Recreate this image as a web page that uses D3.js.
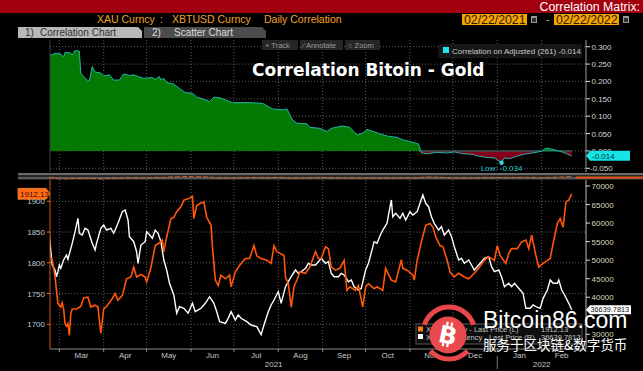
<!DOCTYPE html>
<html>
<head>
<meta charset="utf-8">
<script src="https://cdn.jsdelivr.net/npm/d3@7"></script>
<style>
  html, body { margin: 0; padding: 0; background: #000; }
  svg { display: block; font-family: "Liberation Sans", Arial, sans-serif; }
</style>
</head>
<body>
<svg id="chart" width="643" height="371"></svg>
<script>
// Correlation series (top panel).
const corrDates = [
  '2021-02-22', '2021-02-26', '2021-03-02', '2021-03-04', '2021-03-05', '2021-03-09', '2021-03-10',
  '2021-03-12', '2021-03-15', '2021-03-16', '2021-03-18', '2021-03-21', '2021-03-22', '2021-03-24',
  '2021-03-26', '2021-03-30', '2021-04-01', '2021-04-05', '2021-04-08', '2021-04-12', '2021-04-15',
  '2021-04-19', '2021-04-22', '2021-04-25', '2021-04-29', '2021-05-05', '2021-05-07', '2021-05-10',
  '2021-05-11', '2021-05-13', '2021-05-15', '2021-05-20', '2021-05-24', '2021-05-28', '2021-06-02',
  '2021-06-05', '2021-06-09', '2021-06-14', '2021-06-17', '2021-06-22', '2021-06-25', '2021-06-30',
  '2021-07-12', '2021-07-21', '2021-07-28', '2021-08-05', '2021-08-07', '2021-08-11', '2021-08-14',
  '2021-08-21', '2021-08-23', '2021-08-30', '2021-09-04', '2021-09-07', '2021-09-15', '2021-09-20',
  '2021-09-25', '2021-09-29', '2021-10-02', '2021-10-05', '2021-10-11', '2021-10-16', '2021-10-23',
  '2021-10-27', '2021-11-01', '2021-11-07', '2021-11-09', '2021-11-13', '2021-11-20', '2021-11-27',
  '2021-12-02', '2021-12-08', '2021-12-15', '2021-12-18', '2021-12-23', '2021-12-30', '2022-01-04',
  '2022-01-06', '2022-01-10', '2022-01-14', '2022-01-19', '2022-01-24', '2022-02-01', '2022-02-04',
  '2022-02-07', '2022-02-11', '2022-02-16', '2022-02-19', '2022-02-22'
];
const corrValues = [
  0.274, 0.281, 0.279, 0.270, 0.284, 0.282, 0.276,
  0.289, 0.287, 0.224, 0.214, 0.202, 0.202, 0.243,
  0.227, 0.224, 0.216, 0.219, 0.204, 0.204, 0.222,
  0.217, 0.219, 0.214, 0.209, 0.211, 0.206, 0.214,
  0.204, 0.209, 0.197, 0.192, 0.180, 0.168, 0.166,
  0.155, 0.150, 0.142, 0.155, 0.152, 0.147, 0.139,
  0.139, 0.137, 0.121, 0.118, 0.121, 0.089, 0.080,
  0.078, 0.068, 0.065, 0.056, 0.065, 0.072, 0.068,
  0.046, 0.051, 0.062, 0.058, 0.049, 0.043, 0.039,
  0.032, 0.027, 0.020, -0.006, -0.008, -0.004, -0.006,
  -0.003, -0.008, -0.010, -0.014, -0.018, -0.020, -0.034,
  -0.020, -0.022, -0.016, -0.010, -0.007, -0.001, 0.008,
  0.006, 0.002, -0.004, -0.009, -0.014
];

// XAU Curncy last price (left axis).
const goldDates = [
  '2021-02-22', '2021-02-24', '2021-02-26', '2021-02-28', '2021-03-02', '2021-03-03', '2021-03-04',
  '2021-03-05', '2021-03-06', '2021-03-07', '2021-03-08', '2021-03-09', '2021-03-10', '2021-03-13',
  '2021-03-16', '2021-03-18', '2021-03-21', '2021-03-23', '2021-03-26', '2021-03-28', '2021-03-30',
  '2021-04-01', '2021-04-03', '2021-04-07', '2021-04-09', '2021-04-11', '2021-04-14', '2021-04-17',
  '2021-04-20', '2021-04-22', '2021-04-24', '2021-04-27', '2021-04-30', '2021-05-01', '2021-05-04',
  '2021-05-07', '2021-05-09', '2021-05-12', '2021-05-13', '2021-05-15', '2021-05-18', '2021-05-20',
  '2021-05-22', '2021-05-25', '2021-05-27', '2021-05-30', '2021-06-02', '2021-06-03', '2021-06-05',
  '2021-06-07', '2021-06-10', '2021-06-12', '2021-06-15', '2021-06-16', '2021-06-18', '2021-06-20',
  '2021-06-22', '2021-06-25', '2021-06-28', '2021-06-29', '2021-07-02', '2021-07-05', '2021-07-09',
  '2021-07-12', '2021-07-15', '2021-07-17', '2021-07-20', '2021-07-24', '2021-07-27', '2021-07-29',
  '2021-07-31', '2021-08-05', '2021-08-06', '2021-08-08', '2021-08-10', '2021-08-12', '2021-08-14',
  '2021-08-16', '2021-08-20', '2021-08-23', '2021-08-27', '2021-08-29', '2021-08-31', '2021-09-03',
  '2021-09-05', '2021-09-07', '2021-09-10', '2021-09-13', '2021-09-16', '2021-09-18', '2021-09-20',
  '2021-09-24', '2021-09-26', '2021-09-29', '2021-10-01', '2021-10-03', '2021-10-07', '2021-10-09',
  '2021-10-13', '2021-10-15', '2021-10-19', '2021-10-22', '2021-10-26', '2021-10-27', '2021-10-30',
  '2021-11-03', '2021-11-04', '2021-11-06', '2021-11-09', '2021-11-12', '2021-11-15', '2021-11-17',
  '2021-11-19', '2021-11-22', '2021-11-24', '2021-11-27', '2021-11-29', '2021-12-02', '2021-12-05',
  '2021-12-09', '2021-12-12', '2021-12-16', '2021-12-19', '2021-12-23', '2021-12-26', '2021-12-30',
  '2022-01-01', '2022-01-03', '2022-01-07', '2022-01-09', '2022-01-11', '2022-01-15', '2022-01-18',
  '2022-01-21', '2022-01-23', '2022-01-25', '2022-01-28', '2022-01-30', '2022-02-02', '2022-02-05',
  '2022-02-07', '2022-02-09', '2022-02-12', '2022-02-14', '2022-02-16', '2022-02-18', '2022-02-20',
  '2022-02-22'
];
const goldValues = [
  1812, 1805, 1777, 1734, 1728, 1735, 1725,
  1701, 1697, 1701, 1682, 1717, 1725, 1725,
  1729, 1743, 1744, 1728, 1731, 1728, 1685,
  1725, 1729, 1742, 1750, 1739, 1747, 1774,
  1777, 1793, 1777, 1781, 1777, 1769, 1792,
  1828, 1831, 1837, 1818, 1842, 1872, 1874,
  1883, 1891, 1902, 1904, 1908, 1872, 1893,
  1896, 1899, 1874, 1861, 1826, 1772, 1763,
  1780, 1774, 1780, 1761, 1785, 1796, 1807,
  1807, 1828, 1811, 1807, 1804, 1799, 1828,
  1818, 1812, 1777, 1766, 1728, 1761, 1772,
  1785, 1783, 1793, 1818, 1807, 1807, 1826,
  1823, 1793, 1788, 1791, 1804, 1755, 1761,
  1755, 1763, 1728, 1761, 1766, 1758, 1761,
  1755, 1791, 1772, 1769, 1805, 1791, 1788,
  1780, 1772, 1804, 1834, 1861, 1864, 1858,
  1842, 1828, 1826, 1804, 1785, 1777, 1783,
  1777, 1774, 1783, 1791, 1804, 1810, 1804,
  1828, 1812, 1799, 1815, 1823, 1823, 1834,
  1837, 1823, 1845, 1812, 1793, 1799, 1804,
  1807, 1831, 1864, 1872, 1858, 1899, 1902,
  1912.13
];

// XBTUSD Curncy last price (right axis).
const btcDates = [
  '2021-02-22', '2021-02-24', '2021-02-26', '2021-02-27', '2021-02-28', '2021-03-01', '2021-03-02',
  '2021-03-04', '2021-03-06', '2021-03-07', '2021-03-10', '2021-03-12', '2021-03-14', '2021-03-15',
  '2021-03-17', '2021-03-19', '2021-03-21', '2021-03-24', '2021-03-26', '2021-03-27', '2021-03-30',
  '2021-04-01', '2021-04-03', '2021-04-06', '2021-04-08', '2021-04-11', '2021-04-14', '2021-04-16',
  '2021-04-18', '2021-04-19', '2021-04-22', '2021-04-24', '2021-04-25', '2021-04-27', '2021-04-30',
  '2021-05-01', '2021-05-05', '2021-05-07', '2021-05-09', '2021-05-11', '2021-05-13', '2021-05-15',
  '2021-05-17', '2021-05-20', '2021-05-22', '2021-05-24', '2021-05-27', '2021-05-30', '2021-06-02',
  '2021-06-04', '2021-06-08', '2021-06-11', '2021-06-14', '2021-06-17', '2021-06-19', '2021-06-21',
  '2021-06-25', '2021-06-27', '2021-06-29', '2021-07-02', '2021-07-04', '2021-07-06', '2021-07-10',
  '2021-07-13', '2021-07-17', '2021-07-20', '2021-07-22', '2021-07-25', '2021-07-27', '2021-07-29',
  '2021-08-01', '2021-08-03', '2021-08-06', '2021-08-08', '2021-08-10', '2021-08-13', '2021-08-15',
  '2021-08-17', '2021-08-20', '2021-08-22', '2021-08-24', '2021-08-27', '2021-08-29', '2021-08-31',
  '2021-09-03', '2021-09-05', '2021-09-07', '2021-09-09', '2021-09-12', '2021-09-14', '2021-09-16',
  '2021-09-19', '2021-09-21', '2021-09-23', '2021-09-26', '2021-09-28', '2021-10-01', '2021-10-03',
  '2021-10-07', '2021-10-09', '2021-10-11', '2021-10-13', '2021-10-16', '2021-10-17', '2021-10-19',
  '2021-10-20', '2021-10-22', '2021-10-25', '2021-10-27', '2021-10-29', '2021-11-01', '2021-11-03',
  '2021-11-06', '2021-11-08', '2021-11-10', '2021-11-12', '2021-11-14', '2021-11-16', '2021-11-18',
  '2021-11-21', '2021-11-23', '2021-11-25', '2021-11-28', '2021-11-30', '2021-12-02', '2021-12-05',
  '2021-12-07', '2021-12-09', '2021-12-12', '2021-12-14', '2021-12-16', '2021-12-19', '2021-12-21',
  '2021-12-23', '2021-12-26', '2021-12-28', '2021-12-30', '2022-01-02', '2022-01-04', '2022-01-06',
  '2022-01-09', '2022-01-11', '2022-01-13', '2022-01-17', '2022-01-19', '2022-01-21', '2022-01-24',
  '2022-01-26', '2022-01-28', '2022-01-31', '2022-02-02', '2022-02-05', '2022-02-07', '2022-02-09',
  '2022-02-12', '2022-02-13', '2022-02-15', '2022-02-17', '2022-02-20', '2022-02-22'
];
const btcValues = [
  56800, 48690, 47340, 45530, 46880, 48690, 47800,
  50040, 51390, 50230, 54540, 57690, 61290, 57240,
  56780, 58590, 58130, 54540, 52740, 54540, 58590,
  59480, 58130, 58590, 57240, 59940, 63070, 63530,
  60830, 56330, 54980, 52280, 49150, 54080, 54980,
  57690, 55890, 58130, 57240, 54980, 50040, 47340,
  43750, 40600, 35660, 37440, 37010, 35660, 38360,
  36090, 37010, 38360, 40140, 38360, 36090, 33400,
  32960, 34310, 36090, 33850, 35200, 34310, 33400,
  32500, 32050, 29900, 32500, 36090, 37900, 39250,
  41490, 38360, 42840, 44190, 45530, 47340, 46450,
  46880, 47800, 49150, 48690, 48690, 49590, 50500,
  49150, 49590, 46450, 45530, 45530, 46450, 45990,
  44190, 44640, 42840, 41940, 42390, 47340, 49150,
  54980, 54540, 56500, 58130, 59940, 62180, 66230,
  61720, 62630, 61290, 62630, 60830, 63070, 62180,
  63070, 65330, 67570, 65330, 64420, 61720, 59940,
  58130, 59030, 56780, 58130, 56330, 53630, 50040,
  50500, 49150, 50040, 48690, 47340, 48690, 49590,
  50500, 50950, 48240, 46880, 47340, 45530, 42840,
  43750, 42840, 43750, 41940, 41040, 37010, 37010,
  37900, 37440, 37010, 39700, 41940, 44640, 43750,
  43750, 44640, 41940, 40600, 38360, 36639.7813
];

// Tick labels (35000 sits behind the last-price box in the reference).
const corrTicks = [0.3, 0.25, 0.2, 0.15, 0.1, 0.05, 0, -0.05];
const goldTicks = [1700, 1750, 1800, 1850, 1900];
const btcTicks = [30000, 40000, 45000, 50000, 55000, 60000, 65000, 70000];
const monthLabels = ['Mar', 'Apr', 'May', 'Jun', 'Jul', 'Aug', 'Sep', 'Oct', 'Nov', 'Dec', 'Jan', 'Feb'];
const yearLabels = ['2021', '2022'];

const parse = d3.timeParse('%Y-%m-%d');
const svg = d3.select('#chart');

const corr = corrDates.map((d, i) => ({ date: parse(d), value: corrValues[i] }));
const gold = goldDates.map((d, i) => ({ date: parse(d), value: goldValues[i] }));
const btc = btcDates.map((d, i) => ({ date: parse(d), value: btcValues[i] }));

// Layout.
const left = 50, right = 586;
const top1 = 40, bottom1 = 172;
const top2 = 180, bottom2 = 349;

// Scales.
const x = d3.scaleTime()
  .domain([parse('2021-02-22'), parse('2022-03-04')])
  .range([49.3, 586]);
const yCorr = d3.scaleLinear().domain([-0.05, 0.3]).range([168.3, 46.7]);
const yGold = d3.scaleLinear().domain([1700, 1900]).range([324.3, 201.3]);
const yBtc = d3.scaleLinear().domain([30000, 70000]).range([334.3, 186]);

const fmtCorr = d => d3.format('.3f')(d).replace('\u2212', '-');
const months = d3.timeMonth.range(parse('2021-03-01'), parse('2022-03-01'));

const defs = svg.append('defs');
defs.append('clipPath').attr('id', 'clipTop')
  .append('rect').attr('x', left).attr('y', top1).attr('width', right - left).attr('height', bottom1 - top1);
defs.append('clipPath').attr('id', 'clipPos')
  .append('rect').attr('x', left).attr('y', top1).attr('width', right - left).attr('height', yCorr(0) - top1);
defs.append('clipPath').attr('id', 'clipNeg')
  .append('rect').attr('x', left).attr('y', yCorr(0)).attr('width', right - left).attr('height', bottom1 - yCorr(0));
defs.append('clipPath').attr('id', 'clipBot')
  .append('rect').attr('x', left).attr('y', top2).attr('width', right - left).attr('height', bottom2 - top2);

// Header.
svg.append('rect').attr('width', 643).attr('height', 13).attr('fill', '#a3000f');
svg.append('text').attr('x', 640).attr('y', 11).attr('text-anchor', 'end')
  .attr('fill', '#fff').style('font-size', '12.3px').text('Correlation Matrix:');

const head = svg.append('g').attr('fill', '#f5a02a').style('font-size', '10.5px');
head.append('text').attr('x', 97).attr('y', 23).text('XAU Curncy');
head.append('text').attr('x', 160).attr('y', 23).text(':');
head.append('text').attr('x', 172).attr('y', 23).text('XBTUSD Curncy');
head.append('text').attr('x', 264).attr('y', 23).text('Daily Correlation');

[[462, '02/22/2021'], [554, '02/22/2022']].forEach(([bx, label]) => {
  svg.append('rect').attr('x', bx).attr('y', 14).attr('width', 65).attr('height', 11).attr('fill', '#f7a400');
  svg.append('text').attr('x', bx + 2).attr('y', 24).attr('fill', '#2a1a00')
    .style('font-size', '12.3px').text(label);
  svg.append('rect').attr('x', bx + 69).attr('y', 16).attr('width', 6).attr('height', 7).attr('fill', '#9a9a9a');
  svg.append('rect').attr('x', bx + 70).attr('y', 18).attr('width', 4).attr('height', 4).attr('fill', '#303030');
});
svg.append('text').attr('x', 546).attr('y', 23).attr('fill', '#bbb').style('font-size', '10px').text('-');

// Tabs.
svg.append('path').attr('d', 'M18,27H138L142,31V38H18Z').attr('fill', '#b8b8b8');
svg.append('path').attr('d', 'M144,27H262L266,31V38H144Z').attr('fill', '#4c4c4c');
svg.append('text').attr('x', 25).attr('y', 36).attr('fill', '#333').style('font-size', '10px').text('1)');
svg.append('text').attr('x', 40).attr('y', 36).attr('fill', '#333').style('font-size', '10px').text('Correlation Chart');
svg.append('text').attr('x', 152).attr('y', 36).attr('fill', '#ddd').style('font-size', '10px').text('2)');
svg.append('text').attr('x', 174).attr('y', 36).attr('fill', '#ddd').style('font-size', '10px').text('Scatter Chart');

// Top panel grid.
const grid1 = svg.append('g').attr('stroke', '#5c5c5c').attr('stroke-dasharray', '1,2');
grid1.selectAll('.v').data(months).join('line')
  .attr('x1', d => x(d)).attr('x2', d => x(d)).attr('y1', top1).attr('y2', bottom1);
grid1.selectAll('.h').data(corrTicks).join('line')
  .attr('x1', left).attr('x2', right).attr('y1', d => yCorr(d)).attr('y2', d => yCorr(d));

// Correlation area, green above zero and red below.
const corrArea = d3.area().x(d => x(d.date)).y0(yCorr(0)).y1(d => yCorr(d.value));
const corrLine = d3.line().x(d => x(d.date)).y(d => yCorr(d.value));
svg.append('path').datum(corr).attr('d', corrArea).attr('fill', '#047a04').attr('clip-path', 'url(#clipPos)');
svg.append('path').datum(corr).attr('d', corrArea).attr('fill', '#85001a').attr('clip-path', 'url(#clipNeg)');

// Zero edge of the negative stretch.
const firstNeg = corr.find(d => d.value < 0);
svg.append('line').attr('x1', x(firstNeg.date) - 3).attr('x2', x(corr[corr.length - 1].date))
  .attr('y1', yCorr(0)).attr('y2', yCorr(0)).attr('stroke', '#1f9d96').attr('stroke-width', 0.8);
svg.append('path').datum(corr).attr('d', corrLine).attr('fill', 'none')
  .attr('stroke', '#22b3a8').attr('stroke-width', 1).attr('clip-path', 'url(#clipTop)');

svg.append('line').attr('x1', left).attr('x2', left).attr('y1', top1).attr('y2', bottom1).attr('stroke', '#3c3c3c');

// Low marker.
const low = d3.least(corr, d => d.value);
svg.append('circle').attr('cx', x(low.date)).attr('cy', yCorr(low.value)).attr('r', 2.2).attr('fill', '#2ee0e0');
svg.append('text').attr('x', x(low.date)).attr('y', 170.5).attr('text-anchor', 'middle')
  .attr('fill', '#27c9c9').style('font-size', '8px').text('Low: ' + fmtCorr(low.value));

// Title.
svg.append('text').attr('x', 252).attr('y', 76).attr('fill', '#fff')
  .style('font-family', '"DejaVu Sans", sans-serif').style('font-weight', 'bold').style('font-size', '17px')
  .text('Correlation Bitoin - Gold');

// Toolbar.
const tools = [[262, 36, '+  Track'], [300, 43, '\u2215  Annotate'], [345, 35, '\u25CB  Zoom']];
tools.forEach(([tx, tw, label]) => {
  svg.append('rect').attr('x', tx).attr('y', 40).attr('width', tw).attr('height', 10).attr('fill', '#262626');
  svg.append('text').attr('x', tx + 3).attr('y', 48).attr('fill', '#9c9c9c').style('font-size', '7.5px').text(label);
});

// Top legend.
svg.append('rect').attr('x', 438).attr('y', 44).attr('width', 144).attr('height', 14).attr('fill', '#161616');
svg.append('rect').attr('x', 443).attr('y', 47).attr('width', 6).attr('height', 6).attr('fill', '#1ee6e6');
svg.append('text').attr('x', 452).attr('y', 53.5).attr('fill', '#c8c8c8').style('font-size', '8px')
  .text('Correlation on Adjusted (261)  ' + fmtCorr(corrValues[corrValues.length - 1]));

// Top right axis.
svg.append('line').attr('x1', right).attr('x2', right).attr('y1', top1).attr('y2', bottom1).attr('stroke', '#9a9a9a');
const ax1 = svg.append('g');
ax1.selectAll('line').data(corrTicks).join('line')
  .attr('x1', right).attr('x2', right + 4).attr('y1', d => yCorr(d)).attr('y2', d => yCorr(d)).attr('stroke', '#ddd');
ax1.selectAll('text').data(corrTicks).join('text')
  .attr('x', d => (d < 0 ? 590 : 591.5)).attr('y', d => yCorr(d) + 3).attr('fill', '#d6d6d6')
  .style('font-size', '8px').text(fmtCorr);

// Last correlation value box.
const lastCorr = corrValues[corrValues.length - 1];
const cy1 = yCorr(lastCorr);
svg.append('path')
  .attr('d', `M${right},${cy1}L${right + 4},${cy1 - 5}H630V${cy1 + 5}H${right + 4}Z`).attr('fill', '#16e3e3');
svg.append('text').attr('x', 592).attr('y', cy1 + 3).attr('fill', '#03303a').style('font-size', '8px')
  .text(fmtCorr(lastCorr));

// Separator / navigator strip.
svg.append('rect').attr('x', 18).attr('y', 173).attr('width', 625).attr('height', 7).attr('fill', '#262626');
svg.append('rect').attr('x', 18).attr('y', 173).attr('width', 625).attr('height', 2).attr('fill', '#6a6a6a');
svg.append('rect').attr('x', 18).attr('y', 177).attr('width', 625).attr('height', 2).attr('fill', '#585858');
const yMini = d3.scaleLinear().domain(d3.extent(goldValues)).range([179, 176.5]);
svg.append('path').datum(gold)
  .attr('d', d3.line().x(d => x(d.date)).y(d => yMini(d.value)))
  .attr('fill', 'none').attr('stroke', '#d9642a').attr('stroke-width', 1).attr('stroke-dasharray', '5,2');
svg.append('rect').attr('x', 576).attr('y', 176.5).attr('width', 67).attr('height', 2).attr('fill', '#e0500f');

// Bottom panel grid.
const grid2 = svg.append('g').attr('stroke', '#5c5c5c').attr('stroke-dasharray', '1,2');
grid2.selectAll('.v').data(months).join('line')
  .attr('x1', d => x(d)).attr('x2', d => x(d)).attr('y1', top2).attr('y2', bottom2);
grid2.selectAll('.h').data(goldTicks).join('line')
  .attr('x1', left).attr('x2', right).attr('y1', d => yGold(d)).attr('y2', d => yGold(d));

// Price lines.
const goldLine = d3.line().x(d => x(d.date)).y(d => yGold(d.value));
const btcLine = d3.line().x(d => x(d.date)).y(d => yBtc(d.value));
svg.append('path').datum(btc).attr('d', btcLine).attr('fill', 'none')
  .attr('stroke', '#ffffff').attr('stroke-width', 1.4).attr('clip-path', 'url(#clipBot)');
svg.append('path').datum(gold).attr('d', goldLine).attr('fill', 'none')
  .attr('stroke', '#ff560a').attr('stroke-width', 1.6).attr('clip-path', 'url(#clipBot)');

// Left axis (gold).
svg.append('line').attr('x1', left).attr('x2', left).attr('y1', top2).attr('y2', bottom2).attr('stroke', '#d0541a');
const axL = svg.append('g');
axL.selectAll('line').data(goldTicks).join('line')
  .attr('x1', left - 3).attr('x2', left).attr('y1', d => yGold(d)).attr('y2', d => yGold(d)).attr('stroke', '#ff6a20');
axL.selectAll('text').data(goldTicks).join('text')
  .attr('x', 45).attr('y', d => yGold(d) + 3).attr('text-anchor', 'end')
  .attr('fill', '#b9cbdc').style('font-size', '8px').text(d => d);

// Right axis (bitcoin).
svg.append('line').attr('x1', right).attr('x2', right).attr('y1', top2).attr('y2', bottom2).attr('stroke', '#bdbdbd');
const axR = svg.append('g');
axR.selectAll('line').data(btcTicks).join('line')
  .attr('x1', right).attr('x2', right + 4).attr('y1', d => yBtc(d)).attr('y2', d => yBtc(d)).attr('stroke', '#ddd');
axR.selectAll('text').data(btcTicks).join('text')
  .attr('x', 591.5).attr('y', d => yBtc(d) + 3).attr('fill', '#ded6bf').style('font-size', '8px').text(d => d);

// Bottom time axis.
svg.append('line').attr('x1', left).attr('x2', right).attr('y1', bottom2).attr('y2', bottom2).attr('stroke', '#8a8a8a');
const axB = svg.append('g');
axB.selectAll('line').data(months).join('line')
  .attr('x1', d => x(d)).attr('x2', d => x(d)).attr('y1', bottom2).attr('y2', bottom2 + 3).attr('stroke', '#8a8a8a');
axB.selectAll('text').data(months).join('text')
  .attr('x', d => (x(d) + x(d3.timeMonth.offset(d, 1))) / 2).attr('y', 358)
  .attr('text-anchor', 'middle').attr('fill', '#c6c6c6').style('font-size', '8px')
  .text((d, i) => monthLabels[i]);
const yearStart = parse('2022-01-01');
svg.append('line').attr('x1', x(yearStart)).attr('x2', x(yearStart)).attr('y1', 356).attr('y2', 369)
  .attr('stroke', '#777');
svg.append('text').attr('x', (left + x(yearStart)) / 2).attr('y', 367).attr('text-anchor', 'middle')
  .attr('fill', '#c6c6c6').style('font-size', '8px').text(yearLabels[0]);
svg.append('text').attr('x', (x(yearStart) + right) / 2).attr('y', 367).attr('text-anchor', 'middle')
  .attr('fill', '#c6c6c6').style('font-size', '8px').text(yearLabels[1]);

// Last price boxes.
const lastGold = goldValues[goldValues.length - 1];
const cyG = yGold(lastGold);
svg.append('path').attr('d', `M18,${cyG - 5.5}H46L${left},${cyG}L46,${cyG + 5.5}H18Z`)
  .attr('fill', '#ff6a12').attr('stroke', '#ff9a50').attr('stroke-width', 0.6);
svg.append('text').attr('x', 20).attr('y', cyG + 3).attr('fill', '#4a0c00').style('font-size', '8px')
  .text(d3.format('.2f')(lastGold));

const lastBtc = btcValues[btcValues.length - 1];
const cyB = yBtc(lastBtc);
svg.append('path').attr('d', `M${right},${cyB}L${right + 4},${cyB - 4.5}H631V${cyB + 4.5}H${right + 4}Z`)
  .attr('fill', '#fff');
svg.append('text').attr('x', 590.5).attr('y', cyB + 2.8).attr('fill', '#111').style('font-size', '7.3px')
  .text(d3.format('.4f')(lastBtc));

// Bottom legend.
svg.append('rect').attr('x', 416).attr('y', 324).attr('width', 166).attr('height', 20)
  .attr('fill', '#0e0e0e').attr('stroke', '#555');
svg.append('rect').attr('x', 418).attr('y', 326.5).attr('width', 5).attr('height', 5).attr('fill', '#ff7a10');
svg.append('rect').attr('x', 418).attr('y', 334).attr('width', 5).attr('height', 5).attr('fill', '#fff');
const leg = svg.append('g').attr('fill', '#c4c4c4').style('font-size', '7.5px');
leg.append('text').attr('x', 426).attr('y', 331.5).text('XAU Curncy - Last Price (L)');
leg.append('text').attr('x', 426).attr('y', 339.5).text('XBTUSD Curncy - Last Price (R)');
leg.append('text').attr('x', 541).attr('y', 331.5).text(d3.format('.2f')(lastGold));
leg.append('text').attr('x', 541).attr('y', 339.5).text(d3.format('.4f')(lastBtc));

// Watermark.
const wm = svg.append('g').attr('transform', 'translate(449,333)');
const ring = d3.arc().innerRadius(23.5).outerRadius(28.5);
wm.append('path').attr('d', ring({ startAngle: -1.25, endAngle: 1.25 })).attr('fill', '#e8474a');
wm.append('path').attr('d', ring({ startAngle: Math.PI - 0.8, endAngle: Math.PI + 0.8 })).attr('fill', '#e8474a');
wm.append('circle').attr('cx', -1).attr('cy', 2).attr('r', 18.5).attr('fill', '#e94b4c');
const glyph = wm.append('g').attr('transform', 'translate(-1,2) rotate(12)').attr('fill', '#fff');
glyph.append('text').attr('x', 0).attr('y', 8.5).attr('text-anchor', 'middle')
  .style('font-family', '"DejaVu Sans", sans-serif').style('font-weight', 'bold').style('font-size', '24px').text('B');
glyph.append('rect').attr('x', -4).attr('y', -13).attr('width', 2.2).attr('height', 4);
glyph.append('rect').attr('x', 0.5).attr('y', -13).attr('width', 2.2).attr('height', 4);
glyph.append('rect').attr('x', -4).attr('y', 8).attr('width', 2.2).attr('height', 4);
glyph.append('rect').attr('x', 0.5).attr('y', 8).attr('width', 2.2).attr('height', 4);

svg.append('text').attr('x', 483).attr('y', 328).attr('fill', '#fff').style('font-size', '23px').text('Bitcoin86.com');
svg.append('text').attr('x', 483).attr('y', 350).attr('fill', '#fff')
  .style('font-family', '"Noto Sans CJK SC", sans-serif').style('font-size', '13.5px').text('服务于区块链&数字货币');
</script>
</body>
</html>
